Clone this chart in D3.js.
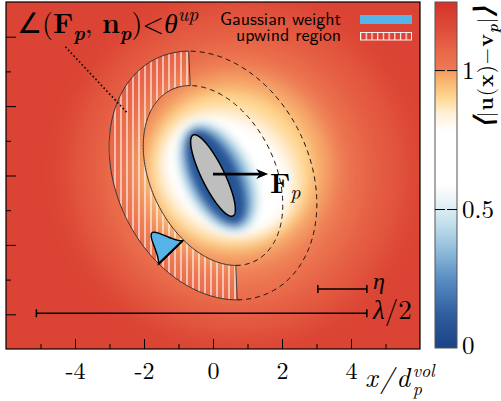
<!DOCTYPE html>
<html>
<head>
<meta charset="utf-8">
<script src="https://cdn.jsdelivr.net/npm/d3@7"></script>
<style>
  body { margin: 0; background: #fff; }
  svg { display: block; }
  text { fill: #000; }
</style>
</head>
<body>
<div id="chart"></div>
<script>
// ---- data ----
const xTicks = [-4, -2, 0, 2, 4];
const xMinor = [-5, -3, -1, 1, 3, 5];
const yTicks = [-4, -2, 0, 2, 4];
const yMinor = [-3, -1, 1, 3];
const cbarTicks = [0.5, 1];
const cbarLabels = [0, 0.5, 1];

// colour map of |u(x)-v_p| (value -> colour)
const cmapStops  = [0, 0.12, 0.25, 0.35, 0.45, 0.52, 0.58, 0.6, 0.78, 0.84, 0.9, 0.96, 0.999, 1.0, 1.06, 1.14, 1.245];
const cmapColors = ['#1b4385', '#2f5d9f', '#5a8ec3', '#8fbcda', '#c4e0ec', '#e6f2f6', '#fbfdfe', '#ffffff', '#ffffff',
                    '#fff1da', '#fed894', '#f9b56f', '#f59a60', '#ee7b55', '#e96a4a', '#df4f3a', '#d4322a'];

// field iso-levels: [value, cx, cy, a, b, angle(deg, clockwise on screen)]
const fieldBg = 1.18;
const fieldOuter = [
  [1.11, 0.7, 0.1, 4.9, 4.8, 0],
  [1.05, 0.65, 0.05, 3.9, 3.9, 0],
  [1.0, 0.7, 0.05, 3.15, 3.25, 0],
  [0.95, 0.6, 0.2, 2.7, 2.6, 0]
];
const fieldHalo = [
  [0.9, 0.5, 0.15, 2.35, 2.2, 20],
  [0.85, 0.45, 0.05, 2.1, 1.85, 30],
  [0.78, 0.42, 0.0, 1.95, 1.55, 35],
  [0.7, 0.4, 0.0, 1.8, 1.4, 38]
];
const fieldCore = [
  [0.5, 0.15, -0.05, 1.75, 1.05, 63.7],
  [0.35, 0.13, -0.05, 1.62, 0.88, 63.7],
  [0.2, 0.1, -0.05, 1.52, 0.72, 63.7],
  [0.08, 0.08, -0.04, 1.45, 0.6, 63.7]
];

const particle = { cx: 0, cy: 0, a: 1.3, b: 0.33, angle: 63.7 };
const shells = [{ a: 2.75, b: 1.8 }, { a: 3.75, b: 2.8 }];   // inner, outer
const forceArrow = [[0, 0.04], [1.6, 0.04]];
const gaussBase = [[-1.58, -2.55], [-0.88, -1.88]];
const gaussHeight = 0.78, gaussSigma = 0.23;
const leader = [[-4.28, 3.71], [-2.48, 1.8]];
const scaleBars = [
  { label: 'η', x0: 3.04, x1: 4.46, y: -3.27 },
  { label: 'λ/2', x0: -5.12, x1: 4.46, y: -3.97 }
];

// ---- pick installed fonts ----
function firstFont(list, generic) {
  const ctx = document.createElement('canvas').getContext('2d');
  const probe = 'mmmmmmmmmmlliiWW0123';
  ctx.font = `40px monospace`;
  const base = ctx.measureText(probe).width;
  for (const f of list) {
    ctx.font = `40px "${f}", monospace`;
    if (Math.abs(ctx.measureText(probe).width - base) > 0.5) return `"${f}", ${generic}`;
  }
  return generic;
}
const SERIF = firstFont(['Latin Modern Roman', 'CMU Serif', 'Liberation Serif', 'DejaVu Serif', 'Noto Serif', 'Times New Roman'], 'serif');
const SANS = firstFont(['Latin Modern Sans', 'CMU Sans Serif', 'DejaVu Sans', 'Liberation Sans'], 'sans-serif');

// ---- layout ----
const W = 501, H = 401;
const plot = { x0: 6, x1: 420, y0: 2, y1: 349 };
const cbar = { x0: 435, x1: 457, y0: 2, y1: 348 };

const x = d3.scaleLinear().domain([-6, 6]).range([plot.x0, plot.x1]);
const y = d3.scaleLinear().domain([-5, 5]).range([plot.y1, plot.y0]);
const color = d3.scaleLinear().domain(cmapStops).range(cmapColors).clamp(true);
const cy = d3.scaleLinear().domain([0, 1.245]).range([cbar.y1, cbar.y0]);

const svg = d3.select('#chart').append('svg')
  .attr('width', W).attr('height', H);
const defs = svg.append('defs');

defs.append('clipPath').attr('id', 'plotclip')
  .append('rect')
  .attr('x', plot.x0).attr('y', plot.y0)
  .attr('width', plot.x1 - plot.x0).attr('height', plot.y1 - plot.y0);

const blur = (id, sd) => defs.append('filter').attr('id', id)
  .attr('filterUnits', 'userSpaceOnUse')
  .attr('x', -100).attr('y', -100).attr('width', 700).attr('height', 600)
  .append('feGaussianBlur').attr('stdDeviation', sd);
blur('blurOuter', 12);
blur('blurHalo', 6);
blur('blurCore', 3);

const hatch = defs.append('pattern').attr('id', 'hatch')
  .attr('patternUnits', 'userSpaceOnUse').attr('width', 6).attr('height', 10);
hatch.append('rect').attr('width', 2).attr('height', 10).attr('fill', 'rgba(255,255,255,0.55)');

const hatchLeg = defs.append('pattern').attr('id', 'hatchLeg')
  .attr('patternUnits', 'userSpaceOnUse').attr('width', 5.7).attr('height', 10).attr('x', 360);
hatchLeg.append('rect').attr('width', 1.2).attr('height', 10).attr('fill', 'rgba(255,255,255,0.9)');

// ellipse sampled in data space
function ellPts(cx0, cy0, a, b, ang, n = 360) {
  const phi = -ang * Math.PI / 180;
  return d3.range(n).map(i => {
    const t = 2 * Math.PI * i / n;
    return [cx0 + a * Math.cos(t) * Math.cos(phi) - b * Math.sin(t) * Math.sin(phi),
            cy0 + a * Math.cos(t) * Math.sin(phi) + b * Math.sin(t) * Math.cos(phi)];
  });
}
const line = d3.line().x(d => x(d[0])).y(d => y(d[1]));
const closed = d3.line().x(d => x(d[0])).y(d => y(d[1])).curve(d3.curveLinearClosed);

// ---- field ----
const fieldG = svg.append('g').attr('clip-path', 'url(#plotclip)');
fieldG.append('rect')
  .attr('x', plot.x0).attr('y', plot.y0)
  .attr('width', plot.x1 - plot.x0).attr('height', plot.y1 - plot.y0)
  .attr('fill', color(fieldBg));

[[fieldOuter, 'blurOuter'], [fieldHalo, 'blurHalo'], [fieldCore, 'blurCore']].forEach(([levels, f]) => {
  fieldG.append('g').attr('filter', `url(#${f})`)
    .selectAll('path').data(levels).join('path')
    .attr('d', d => closed(ellPts(d[1], d[2], d[3], d[4], d[5])))
    .attr('fill', d => color(d[0]));
});

// ---- upwind shell ----
function split(pts) {
  const n = pts.length;
  const iTop = d3.maxIndex(pts, d => d[1]);
  const iBot = d3.minIndex(pts, d => d[1]);
  const left = [], right = [];
  for (let i = iTop; ; i = (i + 1) % n) { left.push(pts[i]); if (i === iBot) break; }
  for (let i = iBot; ; i = (i + 1) % n) { right.push(pts[i]); if (i === iTop) break; }
  return { left, right };
}
const inner = split(ellPts(particle.cx, particle.cy, shells[0].a, shells[0].b, particle.angle));
const outer = split(ellPts(particle.cx, particle.cy, shells[1].a, shells[1].b, particle.angle));

const shellG = svg.append('g').attr('clip-path', 'url(#plotclip)');
shellG.append('path')
  .attr('d', line(outer.left.concat(inner.left.slice().reverse())) + 'Z')
  .attr('fill', 'url(#hatch)').attr('stroke', 'none');
[outer.left, inner.left].forEach(arc => shellG.append('path')
  .attr('d', line(arc)).attr('fill', 'none').attr('stroke', '#333').attr('stroke-width', 1));
[[outer.left[0], inner.left[0]], [outer.left[outer.left.length - 1], inner.left[inner.left.length - 1]]]
  .forEach(seg => shellG.append('path').attr('d', line(seg))
    .attr('stroke', '#444').attr('stroke-width', 1));
[outer.right, inner.right].forEach(arc => shellG.append('path')
  .attr('d', line(arc)).attr('fill', 'none').attr('stroke', '#111')
  .attr('stroke-width', 1).attr('stroke-dasharray', '5,4'));

// ---- particle and force ----
svg.append('path')
  .attr('d', closed(ellPts(particle.cx, particle.cy, particle.a, particle.b, particle.angle)))
  .attr('fill', '#bebebe').attr('stroke', '#000').attr('stroke-width', 1.5);

const ax0 = x(forceArrow[0][0]), ay = y(forceArrow[0][1]), ax1 = x(forceArrow[1][0]);
svg.append('line').attr('x1', ax0).attr('y1', ay).attr('x2', ax1 - 7).attr('y2', ay)
  .attr('stroke', '#000').attr('stroke-width', 2.6);
svg.append('path')
  .attr('d', `M${ax1},${ay} L${ax1 - 12},${ay - 5} L${ax1 - 8.5},${ay} L${ax1 - 12},${ay + 5} Z`)
  .attr('fill', '#000');
const fLab = svg.append('text').attr('x', 270).attr('y', 193).style('font-family', SERIF);
fLab.append('tspan').attr('font-weight', 'bold').attr('font-size', 28).text('F');
fLab.append('tspan').attr('font-style', 'italic').attr('font-size', 20).attr('dy', 6).text('p');

// ---- gaussian weight ----
{
  const A = [x(gaussBase[0][0]), y(gaussBase[0][1])];
  const B = [x(gaussBase[1][0]), y(gaussBase[1][1])];
  const L = Math.hypot(B[0] - A[0], B[1] - A[1]);
  const u = [(B[0] - A[0]) / L, (B[1] - A[1]) / L];
  const nrm = [u[1], -u[0]];
  const k = x(1) - x(0);
  const hpx = gaussHeight * k, spx = gaussSigma * k;
  const g = s => Math.exp(-((s - L / 2) ** 2) / (2 * spx * spx));
  const g0 = g(0);
  const pts = d3.range(41).map(i => {
    const s = L * i / 40, h = hpx * (g(s) - g0) / (1 - g0);
    return [A[0] + s * u[0] + h * nrm[0], A[1] + s * u[1] + h * nrm[1]];
  });
  svg.append('path').attr('d', d3.line()(pts) + 'Z')
    .attr('fill', '#56b4e9').attr('stroke', '#000').attr('stroke-width', 1.4);
  svg.append('line').attr('x1', A[0]).attr('y1', A[1]).attr('x2', B[0]).attr('y2', B[1])
    .attr('stroke', '#000').attr('stroke-width', 2.2);
}

// ---- leader line + annotation ----
svg.append('path').attr('d', line(leader))
  .attr('stroke', '#000').attr('stroke-width', 1.6).attr('stroke-dasharray', '1.6,2.4');

function rich(sel, parts, size) {
  let shift = 0;
  parts.forEach(([t, st]) => {
    const ts = sel.append('tspan').text(t);
    let target = 0, fs = size;
    if (st.includes('sub')) { target = size * 0.25; fs = size * 0.7; }
    if (st.includes('sup')) { target = -size * 0.42; fs = size * 0.7; }
    if (st.includes('big')) fs = size * 1.25;
    ts.attr('font-size', fs).attr('dy', target - shift);
    if (st.includes('b')) ts.attr('font-weight', 'bold');
    if (st.includes('i')) ts.attr('font-style', 'italic');
    shift = target;
  });
}
const ann = svg.append('text').attr('x', 17).attr('y', 33).style('font-family', SERIF);
rich(ann, [['∠', ''], ['(', ''], ['F', 'b'], ['p', 'i sub'], [', ', ''], ['n', 'b'], ['p', 'i sub'],
           [')<', ''], ['θ', 'i'], ['up', 'i sup']], 28);

// ---- scale bars ----
scaleBars.forEach(d => {
  const g = svg.append('g').attr('stroke', '#000').attr('stroke-width', 1.5);
  g.append('line').attr('x1', x(d.x0)).attr('x2', x(d.x1)).attr('y1', y(d.y)).attr('y2', y(d.y));
  [d.x0, d.x1].forEach(v => g.append('line').attr('x1', x(v)).attr('x2', x(v))
    .attr('y1', y(d.y) - 4).attr('y2', y(d.y) + 4));
});
svg.append('text').attr('x', 373).attr('y', 289).style('font-family', SERIF)
  .attr('font-style', 'italic').attr('font-size', 24).text(scaleBars[0].label);
const lam = svg.append('text').attr('x', 373).attr('y', 319).attr('font-size', 27).style('font-family', SERIF);
lam.append('tspan').attr('font-style', 'italic').text('λ');
lam.append('tspan').text('/2');

// ---- legend ----
const leg = svg.append('g').style('font-family', SANS);
leg.append('text').attr('x', 341).attr('y', 25).attr('text-anchor', 'end')
  .attr('font-size', 18).text('Gaussian weight');
leg.append('text').attr('x', 341).attr('y', 41).attr('text-anchor', 'end')
  .attr('font-size', 18).text('upwind region');
leg.append('rect').attr('x', 360).attr('y', 15).attr('width', 52).attr('height', 9).attr('fill', '#56b4e9');
leg.append('rect').attr('x', 360.5).attr('y', 32.5).attr('width', 51).attr('height', 7.5)
  .attr('fill', 'url(#hatchLeg)').attr('stroke', 'rgba(255,255,255,0.9)').attr('stroke-width', 1);

// ---- axes ----
svg.append('rect')
  .attr('x', plot.x0).attr('y', plot.y0)
  .attr('width', plot.x1 - plot.x0).attr('height', plot.y1 - plot.y0)
  .attr('fill', 'none').attr('stroke', '#000').attr('stroke-width', 1.2);

const xAxisG = svg.append('g').attr('transform', `translate(0,${plot.y1})`)
  .call(d3.axisBottom(x).tickValues(xTicks).tickSize(-10).tickPadding(13).tickFormat(d => d));
svg.append('g').attr('transform', `translate(0,${plot.y1})`)
  .call(d3.axisBottom(x).tickValues(xMinor).tickSize(-5).tickFormat(''));
svg.append('g').attr('transform', `translate(${plot.x0},0)`)
  .call(d3.axisLeft(y).tickValues(yTicks).tickSize(-10).tickFormat(''));
svg.append('g').attr('transform', `translate(${plot.x0},0)`)
  .call(d3.axisLeft(y).tickValues(yMinor).tickSize(-5).tickFormat(''));
svg.selectAll('.domain').remove();
svg.selectAll('.tick line').attr('stroke', '#000').attr('stroke-width', 1);
xAxisG.attr('font-family', null);
xAxisG.selectAll('text').attr('font-size', 24).style('font-family', SERIF);

// x label  x/d_p^vol
const xl = svg.append('text').attr('x', 365).attr('y', 387).style('font-family', SERIF)
  .attr('font-style', 'italic').attr('font-size', 27).attr('letter-spacing', 2.5).text('x/d');
const xw = xl.node().getComputedTextLength();
svg.append('text').attr('x', 365 + xw).attr('y', 377).style('font-family', SERIF)
  .attr('font-style', 'italic').attr('font-size', 18).text('vol');
svg.append('text').attr('x', 365 + xw).attr('y', 395).style('font-family', SERIF)
  .attr('font-style', 'italic').attr('font-size', 18).text('p');

// ---- colorbar ----
const grad = defs.append('linearGradient').attr('id', 'cgrad')
  .attr('x1', 0).attr('y1', 1).attr('x2', 0).attr('y2', 0);
grad.selectAll('stop').data(cmapStops).join('stop')
  .attr('offset', d => d / 1.245)
  .attr('stop-color', d => color(d));
svg.append('rect')
  .attr('x', cbar.x0).attr('y', cbar.y0)
  .attr('width', cbar.x1 - cbar.x0).attr('height', cbar.y1 - cbar.y0)
  .attr('fill', 'url(#cgrad)').attr('stroke', '#555').attr('stroke-width', 1);

const cbR = svg.append('g').attr('transform', `translate(${cbar.x1},0)`)
  .call(d3.axisRight(cy).tickValues(cbarTicks).tickSize(-10).tickFormat(''));
const cbL = svg.append('g').attr('transform', `translate(${cbar.x0},0)`)
  .call(d3.axisLeft(cy).tickValues(cbarTicks).tickSize(-10).tickFormat(''));
[cbR, cbL].forEach(g => { g.select('.domain').remove(); g.selectAll('line').attr('stroke', '#000'); });

svg.append('g').selectAll('text').data(cbarLabels).join('text')
  .style('font-family', SERIF)
  .attr('x', cbar.x1 + 5)
  .attr('y', d => Math.min(cy(d), 345))
  .attr('dy', '0.35em')
  .attr('font-size', 25)
  .text(d => d);

const ct = svg.append('text')
  .attr('transform', `translate(493,67) rotate(-90)`)
  .attr('text-anchor', 'middle')
  .attr('letter-spacing', 1)
  .style('font-family', SERIF);
rich(ct, [['⟨', 'big'], ['|', ''], ['u', 'b'], ['(', ''], ['x', 'b'], [')−', ''], ['v', 'b'], ['p', 'i sub'], ['|', ''], ['⟩', 'big']], 21);
</script>
</body>
</html>
